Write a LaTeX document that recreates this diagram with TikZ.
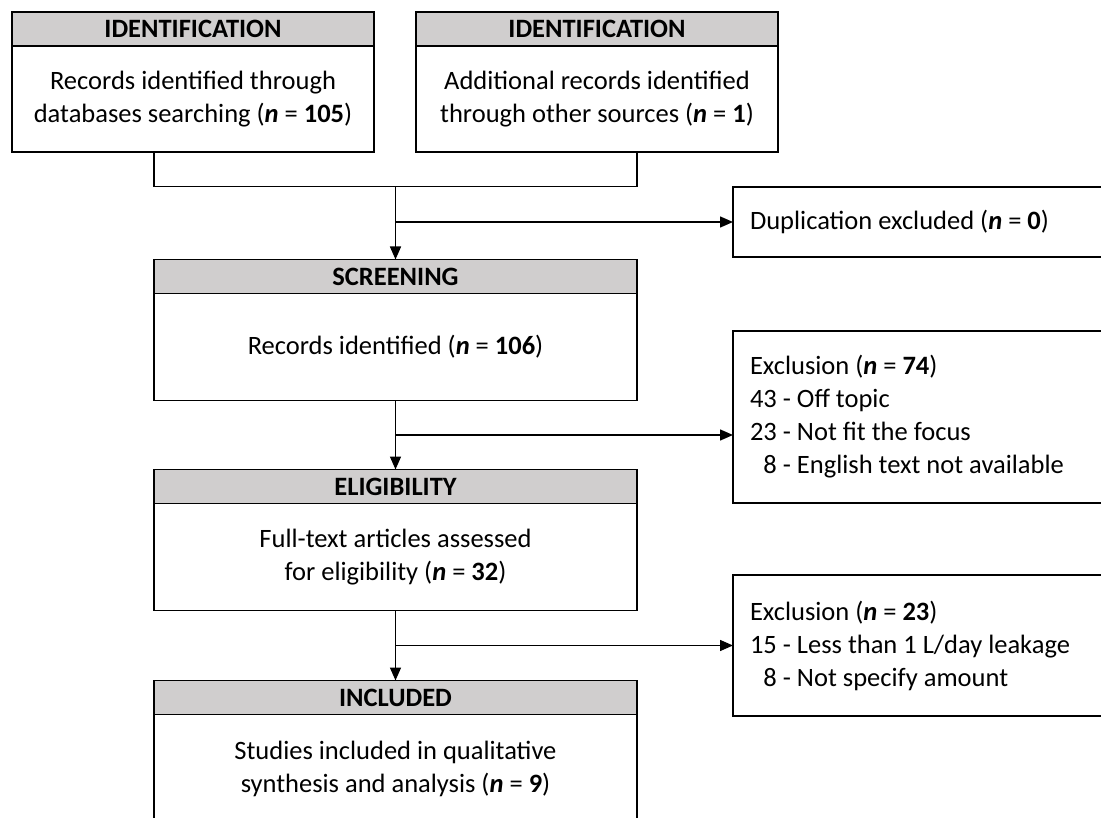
\documentclass[tikz,border=0pt]{standalone}
\usepackage{fontspec}
\setmainfont{Carlito}
\usetikzlibrary{positioning,calc,arrows.meta}
\definecolor{headgray}{RGB}{208,206,206}
\newcommand{\flowfont}{\fontsize{26.5}{33}\selectfont}
\newcommand{\nval}[1]{(\textbf{\textit{n}} = \textbf{#1})}

\begin{document}
\begin{tikzpicture}[
    x=1pt, y=-1pt,
    font=\flowfont,
    every node/.style={line width=1.5pt, outer sep=0pt},
    head/.style={rectangle, draw, fill=headgray, minimum height=34pt, font={\flowfont\bfseries}},
    body/.style={rectangle, draw, fill=white, minimum height=107pt, align=center},
    note/.style={rectangle, draw, fill=white, anchor=west, minimum width=377pt, text width=343pt, inner xsep=17pt, align=flush left},
    flow/.style={-{Triangle[length=13pt, width=11pt]}, line width=1.5pt},
    link/.style={line width=1.5pt}
]
    \useasboundingbox (0,0) rectangle (1101,818);
    \clip (0,0) rectangle (1101,818);

    % identification
    \node[head, minimum width=362pt] (idhead1) at (193,29) {IDENTIFICATION};
    \node[body, minimum width=362pt, minimum height=106pt, below=0pt of idhead1] (idbody1) {Records identified through\\databases searching \nval{105}};
    \node[head, minimum width=362pt, right=42pt of idhead1] (idhead2) {IDENTIFICATION};
    \node[body, minimum width=362pt, minimum height=106pt, below=0pt of idhead2] (idbody2) {Additional records identified\\through other sources \nval{1}};

    % main column
    \node[head, minimum width=483pt] (scrhead) at (395.5,276.5) {SCREENING};
    \node[body, minimum width=483pt, below=0pt of scrhead] (scrbody) {Records identified \nval{106}};
    \node[head, minimum width=483pt, below=69pt of scrbody] (elighead) {ELIGIBILITY};
    \node[body, minimum width=483pt, below=0pt of elighead] (eligbody) {Full-text articles assessed\\for eligibility \nval{32}};
    \node[head, minimum width=483pt, below=70pt of eligbody] (inclhead) {INCLUDED};
    \node[body, minimum width=483pt, minimum height=108pt, below=0pt of inclhead] (inclbody) {Studies included in qualitative\\synthesis and analysis \nval{9}};

    % exclusions
    \node[note, minimum height=70pt] (dup) at (733,222) {Duplication excluded \nval{0}};
    \node[note, minimum height=172pt] (excl1) at (733,417) {Exclusion \nval{74}\\43 - Off topic\\23 - Not fit the focus\\\hphantom{4}8 - English text not available};
    \node[note, minimum height=141pt] (excl2) at (733,645.5) {Exclusion \nval{23}\\15 - Less than 1 L/day leakage\\\hphantom{1}8 - Not specify amount};

    % connectors
    \coordinate (merge) at ($(scrhead.north)+(0,-73)$);
    \draw[link] (idbody1.south -| scrhead.west) |- (merge) -| (idbody2.south -| scrhead.east);
    \draw[flow] (merge) -- (scrhead.north);
    \draw[flow] (merge |- dup.west) -- (dup.west);

    \coordinate (split1) at ($(scrbody.south)!0.5!(elighead.north)$);
    \draw[flow] (scrbody.south) -- (elighead.north);
    \draw[flow] (split1) -- (split1 -| excl1.west);

    \coordinate (split2) at ($(eligbody.south)!0.5!(inclhead.north)$);
    \draw[flow] (eligbody.south) -- (inclhead.north);
    \draw[flow] (split2) -- (split2 -| excl2.west);
\end{tikzpicture}
\end{document}
